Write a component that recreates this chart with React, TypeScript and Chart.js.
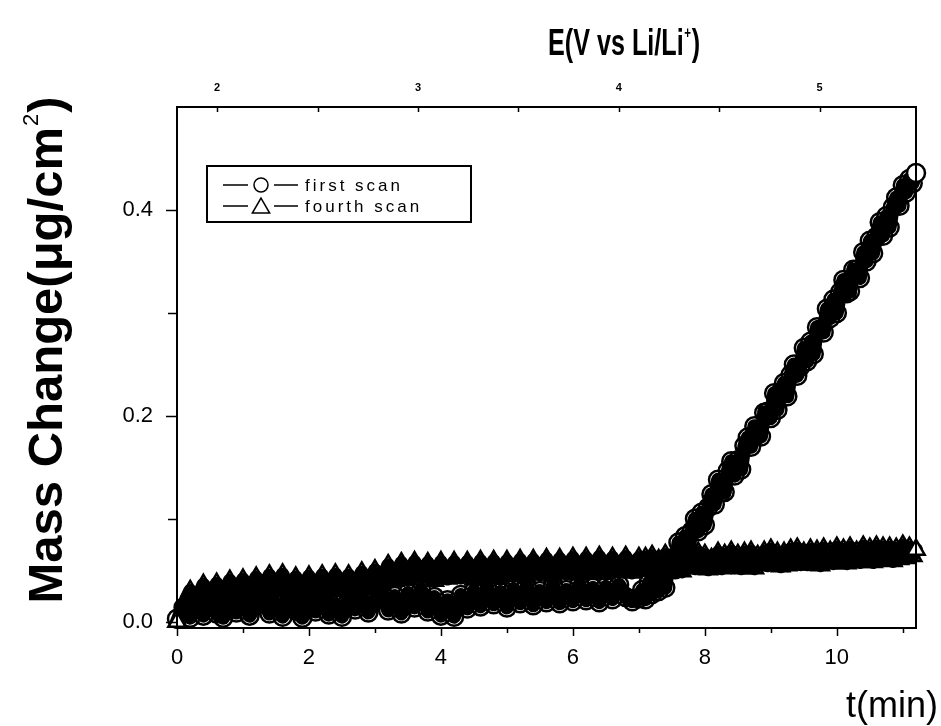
import React, { useEffect, useRef } from "react";
import { Chart, registerables } from "chart.js";

Chart.register(...registerables);

// ---------- data ----------
const TIME = [
  0, 0.1, 0.2, 0.3, 0.4, 0.5, 0.6, 0.7, 0.8, 0.9, 1, 1.1, 1.2, 1.3, 1.4, 1.5, 1.6, 1.7, 1.8, 1.9,
  2, 2.1, 2.2, 2.3, 2.4, 2.5, 2.6, 2.7, 2.8, 2.9, 3, 3.1, 3.2, 3.3, 3.4, 3.5, 3.6, 3.7, 3.8, 3.9,
  4, 4.1, 4.2, 4.3, 4.4, 4.5, 4.6, 4.7, 4.8, 4.9, 5, 5.1, 5.2, 5.3, 5.4, 5.5, 5.6, 5.7, 5.8, 5.9,
  6, 6.1, 6.2, 6.3, 6.4, 6.5, 6.6, 6.7, 6.8, 6.9, 7,
  7.05, 7.1, 7.15, 7.2, 7.25, 7.3, 7.35, 7.4, 7.45, 7.5, 7.55, 7.6, 7.65, 7.7, 7.75, 7.8, 7.85, 7.9, 7.95,
  8, 8.05, 8.1, 8.15, 8.2, 8.25, 8.3, 8.35, 8.4, 8.45, 8.5, 8.55, 8.6, 8.65, 8.7, 8.75, 8.8, 8.85, 8.9, 8.95,
  9, 9.05, 9.1, 9.15, 9.2, 9.25, 9.3, 9.35, 9.4, 9.45, 9.5, 9.55, 9.6, 9.65, 9.7, 9.75, 9.8, 9.85, 9.9, 9.95,
  10, 10.05, 10.1, 10.15, 10.2, 10.25, 10.3, 10.35, 10.4, 10.45, 10.5, 10.55, 10.6, 10.65, 10.7, 10.75,
  10.8, 10.85, 10.9, 10.95, 11, 11.05, 11.1, 11.15, 11.2,
];

const FIRST_SCAN = [
  0.003, 0.014, 0.004, 0.018, 0.006, 0.02, 0.008, 0.004, 0.019, 0.009, 0.022, 0.006, 0.016, 0.024, 0.008,
  0.018, 0.005, 0.021, 0.011, 0.004, 0.02, 0.01, 0.023, 0.007, 0.017, 0.005, 0.022, 0.012, 0.026, 0.009,
  0.021, 0.03, 0.011, 0.025, 0.008, 0.028, 0.014, 0.031, 0.01, 0.024, 0.006, 0.021, 0.005, 0.026, 0.013,
  0.03, 0.015, 0.033, 0.017, 0.029, 0.014, 0.032, 0.018, 0.034, 0.016, 0.03, 0.019, 0.035, 0.018, 0.031,
  0.02, 0.036, 0.021, 0.033, 0.019, 0.034, 0.022, 0.036, 0.024, 0.02, 0.023,
  0.031, 0.022, 0.038, 0.027, 0.045, 0.03, 0.045, 0.033, 0.057, 0.057, 0.051, 0.077, 0.065, 0.083, 0.07,
  0.088, 0.1, 0.088, 0.106, 0.094, 0.111, 0.124, 0.114, 0.138, 0.126, 0.126, 0.147, 0.156, 0.142, 0.157,
  0.148, 0.171, 0.179, 0.17, 0.19, 0.182, 0.18, 0.203, 0.204, 0.198, 0.222, 0.206, 0.223, 0.232, 0.219,
  0.24, 0.25, 0.239, 0.248, 0.266, 0.253, 0.272, 0.26, 0.286, 0.284, 0.281, 0.304, 0.295, 0.313, 0.3,
  0.32, 0.332, 0.319, 0.321, 0.342, 0.342, 0.334, 0.359, 0.35, 0.37, 0.358, 0.374, 0.388, 0.375, 0.394,
  0.383, 0.403, 0.412, 0.404, 0.424, 0.417, 0.43, 0.426, 0.436,
];

const FOURTH_SCAN = [
  0.0, 0.016, 0.03, 0.019, 0.036, 0.022, 0.037, 0.024, 0.04, 0.026, 0.041, 0.025, 0.043, 0.028, 0.045,
  0.03, 0.046, 0.027, 0.043, 0.026, 0.044, 0.029, 0.045, 0.027, 0.046, 0.03, 0.045, 0.032, 0.048, 0.033,
  0.05, 0.036, 0.055, 0.04, 0.057, 0.041, 0.058, 0.043, 0.057, 0.04, 0.058, 0.042, 0.058, 0.043, 0.058,
  0.041, 0.059, 0.044, 0.059, 0.042, 0.059, 0.045, 0.06, 0.043, 0.06, 0.046, 0.061, 0.044, 0.061, 0.047,
  0.062, 0.046, 0.062, 0.048, 0.063, 0.047, 0.062, 0.049, 0.063, 0.048, 0.062,
  0.05, 0.062, 0.052, 0.064, 0.049, 0.06, 0.051, 0.065, 0.054, 0.063, 0.05, 0.062, 0.049, 0.065, 0.053,
  0.061, 0.052, 0.067, 0.053, 0.065, 0.051, 0.061, 0.054, 0.067, 0.052, 0.065, 0.056, 0.068, 0.053, 0.065,
  0.052, 0.067, 0.056, 0.068, 0.052, 0.064, 0.056, 0.068, 0.055, 0.07, 0.058, 0.067, 0.054, 0.067, 0.055,
  0.07, 0.058, 0.071, 0.056, 0.067, 0.056, 0.07, 0.059, 0.069, 0.055, 0.071, 0.058, 0.068, 0.057, 0.072,
  0.059, 0.07, 0.057, 0.072, 0.059, 0.068, 0.058, 0.073, 0.059, 0.071, 0.058, 0.073, 0.062, 0.072, 0.06,
  0.072, 0.059, 0.071, 0.061, 0.074, 0.062, 0.072, 0.064, 0.07,
];

const SERIES_NAMES = ["first scan", "fourth scan"];
const X_TICKS = [0, 1, 2, 3, 4, 5, 6, 7, 8, 9, 10, 11];
const X_LABELS = [0, 2, 4, 6, 8, 10];
const Y_TICKS = [0, 0.1, 0.2, 0.3, 0.4];
const Y_LABELS = [0, 0.2, 0.4];
const E_TICKS = [2, 2.5, 3, 3.5, 4, 4.5, 5];
const E_LABELS = [2, 3, 4, 5];
const X_RANGE = [0, 11.2];
const Y_RANGE = [-0.006, 0.5];
const E_RANGE = [1.8, 5.48];
const X_TITLE = "t(min)";
const Y_TITLE = ["Mass Change(\u03bcg/cm", "2", ")"];
const TOP_TITLE = ["E(V vs Li/Li", "+", ")"];

const SANS = '"Liberation Sans", Arial, sans-serif';

function drawMarker(ctx: CanvasRenderingContext2D, style: string, x: number, y: number, r: number) {
  ctx.beginPath();
  if (style === "circle") {
    ctx.arc(x, y, r, 0, Math.PI * 2);
  } else {
    const k = (2 * Math.PI) / 3;
    ctx.moveTo(x, y - r);
    ctx.lineTo(x + Math.sin(k) * r, y - Math.cos(k) * r);
    ctx.lineTo(x + Math.sin(2 * k) * r, y - Math.cos(2 * k) * r);
    ctx.closePath();
  }
  ctx.fillStyle = "#fff";
  ctx.fill();
  ctx.stroke();
}

const decorPlugin = {
  id: "decor",
  afterDraw(chart: any) {
    const { ctx, chartArea: a, scales } = chart;
    ctx.save();
    ctx.strokeStyle = "#000";
    ctx.fillStyle = "#000";

    // frame
    ctx.lineWidth = 2;
    ctx.strokeRect(a.left, a.top, a.right - a.left, a.bottom - a.top);

    // tick marks
    ctx.lineWidth = 1.5;
    ctx.beginPath();
    for (const v of X_TICKS) {
      const px = Math.round(scales.x.getPixelForValue(v)) + 0.5;
      const len = X_LABELS.includes(v) ? 8 : 5;
      ctx.moveTo(px, a.bottom);
      ctx.lineTo(px, a.bottom + len);
    }
    for (const v of Y_TICKS) {
      const py = Math.round(scales.y.getPixelForValue(v)) + 0.5;
      const len = Y_LABELS.includes(v) ? 11 : 9;
      ctx.moveTo(a.left, py);
      ctx.lineTo(a.left - len, py);
    }
    for (const v of E_TICKS) {
      const px = Math.round(scales.x2.getPixelForValue(v)) + 0.5;
      ctx.moveTo(px, a.top);
      ctx.lineTo(px, a.top + 5);
    }
    ctx.stroke();

    // top title
    ctx.save();
    ctx.translate(548, 55);
    ctx.scale(0.68, 1);
    ctx.font = `bold 37px ${SANS}`;
    ctx.textBaseline = "alphabetic";
    ctx.textAlign = "left";
    ctx.fillText(TOP_TITLE[0], 0, 0);
    let w = ctx.measureText(TOP_TITLE[0]).width;
    ctx.font = `bold 17px ${SANS}`;
    ctx.fillText(TOP_TITLE[1], w + 1, -17);
    w += ctx.measureText(TOP_TITLE[1]).width + 2;
    ctx.font = `bold 37px ${SANS}`;
    ctx.fillText(TOP_TITLE[2], w, 0);
    ctx.restore();

    // y title (rotated)
    ctx.save();
    ctx.translate(62, 350);
    ctx.rotate(-Math.PI / 2);
    ctx.textBaseline = "alphabetic";
    ctx.textAlign = "left";
    const big = `bold 49px ${SANS}`;
    const small = `22px ${SANS}`;
    ctx.font = big;
    const w0 = ctx.measureText(Y_TITLE[0]).width;
    const w2 = ctx.measureText(Y_TITLE[2]).width;
    ctx.font = small;
    const w1 = ctx.measureText(Y_TITLE[1]).width;
    const total = w0 + w1 + w2 + 2;
    let xx = -total / 2;
    ctx.font = big;
    ctx.fillText(Y_TITLE[0], xx, 0);
    xx += w0 + 1;
    ctx.font = small;
    ctx.fillText(Y_TITLE[1], xx, -24);
    xx += w1 + 1;
    ctx.font = big;
    ctx.fillText(Y_TITLE[2], xx, 0);
    ctx.restore();

    // x title
    ctx.font = `36px ${SANS}`;
    ctx.textAlign = "right";
    ctx.textBaseline = "alphabetic";
    ctx.fillText(X_TITLE, 938, 717);

    // legend
    ctx.lineWidth = 2;
    ctx.fillStyle = "#fff";
    ctx.fillRect(207, 166, 264, 56);
    ctx.strokeRect(207, 166, 264, 56);
    const rows = [
      { y: 185, style: "circle", r: 7 },
      { y: 206, style: "triangle", r: 10 },
    ];
    ctx.font = `17px ${SANS}`;
    (ctx as any).letterSpacing = "3px";
    ctx.textAlign = "left";
    ctx.textBaseline = "middle";
    rows.forEach((row, i) => {
      ctx.lineWidth = 1.5;
      ctx.beginPath();
      ctx.moveTo(223, row.y);
      ctx.lineTo(248, row.y);
      ctx.moveTo(274, row.y);
      ctx.lineTo(298, row.y);
      ctx.stroke();
      drawMarker(ctx, row.style, 261, row.style === "triangle" ? row.y + 2 : row.y, row.r);
      ctx.fillStyle = "#000";
      ctx.fillText(SERIES_NAMES[i], 305, row.y + 1);
    });
    (ctx as any).letterSpacing = "0px";
    ctx.restore();
  },
};

// hollow markers, except the first and last ones which show their white face
const markerFill = (n: number) => (c: any) =>
  c.dataIndex === 0 || c.dataIndex === n - 1 ? "#fff" : "rgba(255,255,255,0)";

export default function App() {
  const ref = useRef<HTMLCanvasElement>(null);

  useEffect(() => {
    if (!ref.current) return;
    const firstData = TIME.map((t, i) => ({ x: t, y: FIRST_SCAN[i] }));
    const fourthData = TIME.map((t, i) => ({ x: t, y: FOURTH_SCAN[i] }));
    const tickFont = { family: SANS, size: 22 };
    const n = TIME.length;

    const common = {
      borderColor: "#000",
      borderWidth: 14,
      borderJoinStyle: "round",
      borderCapStyle: "round",
      pointBorderWidth: 2.5,
      pointBackgroundColor: markerFill(n),
      pointBorderColor: "#000",
      tension: 0,
      clip: false,
      xAxisID: "x",
      yAxisID: "y",
    };

    const chart = new Chart(ref.current, {
      type: "line",
      data: {
        datasets: [
          { ...common, label: SERIES_NAMES[1], data: fourthData, pointStyle: "triangle", pointRadius: 10 },
          { ...common, label: SERIES_NAMES[0], data: firstData, pointStyle: "circle", pointRadius: 9 },
        ],
      },
      options: {
        responsive: false,
        maintainAspectRatio: false,
        animation: false,
        devicePixelRatio: 1,
        layout: { padding: { left: 0, top: 0, right: 25, bottom: 0 } },
        plugins: {
          legend: { display: false },
          tooltip: { enabled: false },
          title: { display: false },
        },
        scales: {
          x: {
            type: "linear",
            position: "bottom",
            min: X_RANGE[0],
            max: X_RANGE[1],
            grid: { display: false, drawTicks: false },
            border: { display: false },
            afterBuildTicks: (s: any) => {
              s.ticks = X_LABELS.map((v) => ({ value: v }));
            },
            afterFit: (s: any) => {
              s.height = 98;
            },
            ticks: {
              autoSkip: false,
              maxRotation: 0,
              padding: 17,
              color: "#000",
              font: tickFont,
              callback: (v: any) => String(v),
            },
          },
          x2: {
            type: "linear",
            position: "top",
            min: E_RANGE[0],
            max: E_RANGE[1],
            grid: { display: false, drawTicks: false },
            border: { display: false },
            afterBuildTicks: (s: any) => {
              s.ticks = E_LABELS.map((v) => ({ value: v }));
            },
            afterFit: (s: any) => {
              s.height = 107;
            },
            ticks: {
              autoSkip: false,
              maxRotation: 0,
              padding: 12,
              color: "#000",
              font: { family: SANS, size: 11, weight: "bold" },
              callback: (v: any) => String(v),
            },
          },
          y: {
            type: "linear",
            position: "left",
            min: Y_RANGE[0],
            max: Y_RANGE[1],
            grid: { display: false, drawTicks: false },
            border: { display: false },
            afterBuildTicks: (s: any) => {
              s.ticks = Y_LABELS.map((v) => ({ value: v }));
            },
            afterFit: (s: any) => {
              s.width = 177;
            },
            ticks: {
              autoSkip: false,
              padding: 24,
              color: "#000",
              font: tickFont,
              callback: (v: any) => Number(v).toFixed(1),
            },
          },
        },
      } as any,
      plugins: [decorPlugin],
    });
    return () => chart.destroy();
  }, []);

  return (
    <div style={{ position: "fixed", left: 0, top: 0, width: 941, height: 726, background: "#fff" }}>
      <canvas ref={ref} width={941} height={726} style={{ display: "block", width: 941, height: 726 }} />
    </div>
  );
}
